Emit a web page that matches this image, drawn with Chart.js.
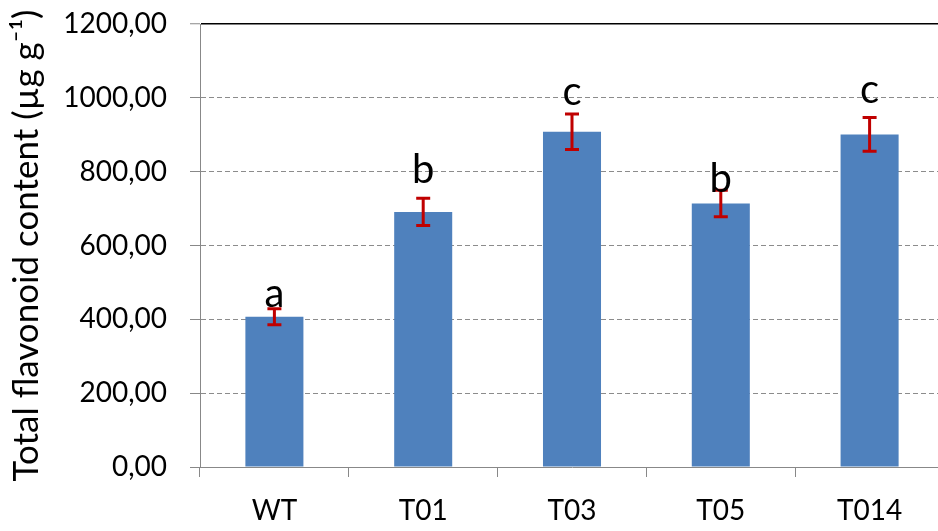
<!DOCTYPE html>
<html>
<head>
<meta charset="utf-8">
<script src="https://cdn.jsdelivr.net/npm/chart.js@4/dist/chart.umd.min.js"></script>
<style>
  html, body { margin: 0; padding: 0; background: #fff; overflow: hidden; }
  #wrap { width: 945px; height: 531px; }
</style>
</head>
<body>
<div id="wrap"><canvas id="myChart" width="945" height="531"></canvas></div>
<script>
// données
const categories = ["WT", "T01", "T03", "T05", "T014"];
const flavonoid = [407, 691, 908, 714, 901]; // moyenne (µg g-1)
const errors = [22, 37, 48, 36, 46]; // écart-type
const letters = ["a", "b", "c", "b", "c"]; // groupes statistiques
const letterPos = [433, 769, 980, 745, 986]; // hauteur de la lettre (valeur)
const yTicks = [0, 200, 400, 600, 800, 1000, 1200];

const fontName = "Lato, 'Open Sans', sans-serif";

// barres d'erreur + lettres
const errorBars = {
  id: "errorBars",
  afterDatasetsDraw(chart) {
    const ctx = chart.ctx;
    const y = chart.scales.y;
    const meta = chart.getDatasetMeta(0);
    ctx.save();
    meta.data.forEach(function (bar, i) {
      const x = bar.x;
      const top = y.getPixelForValue(flavonoid[i] + errors[i]);
      const bot = y.getPixelForValue(flavonoid[i] - errors[i]);
      ctx.strokeStyle = "#C00000";
      ctx.lineWidth = 3;
      ctx.beginPath();
      ctx.moveTo(x, top); ctx.lineTo(x, bot);
      ctx.moveTo(x - 7, top); ctx.lineTo(x + 7, top);
      ctx.moveTo(x - 7, bot); ctx.lineTo(x + 7, bot);
      ctx.stroke();
      // lettre
      ctx.fillStyle = "#000";
      ctx.font = "40px " + fontName;
      ctx.textAlign = "center";
      ctx.textBaseline = "alphabetic";
      ctx.fillText(letters[i], x, y.getPixelForValue(letterPos[i]));
    });
    ctx.restore();
  },
};

const config = {
  type: "bar",
  data: {
    labels: categories,
    datasets: [
      {
        data: flavonoid,
        backgroundColor: "#4F81BD",
        borderWidth: 0,
        categoryPercentage: 1,
        barPercentage: 0.39,
      },
    ],
  },
  options: {
    responsive: false,
    animation: false,
    layout: { autoPadding: false, padding: { top: 24, right: 1, left: 0, bottom: 0 } },
    plugins: { legend: { display: false }, tooltip: { enabled: false } },
    scales: {
      x: {
        border: { color: "#888", width: 1 },
        grid: {
          offset: true,
          drawOnChartArea: false,
          tickLength: 10,
          tickColor: "#888",
        },
        ticks: {
          color: "#000",
          font: { family: fontName, size: 28 },
          padding: 17,
        },
        afterFit: function (scale) {
          scale.height = 64;
          scale.paddingLeft = 0;
          scale.paddingRight = 0;
        },
      },
      y: {
        min: 0,
        max: 1200,
        afterBuildTicks: function (scale) {
          scale.ticks = yTicks.map(function (v) { return { value: v }; });
        },
        border: {
          color: "#888",
          width: 1,
          // v4 : pointillés de grille (ligne du haut pleine)
          dash: function (c) {
            return c.tick && c.tick.value === 1200 ? [] : [5, 3];
          },
        },
        grid: {
          color: function (c) {
            if (!c.tick) return "#8c8c8c";
            if (c.tick.value === 0) return "rgba(0,0,0,0)";
            if (c.tick.value === 1200) return "#000";
            return "#8c8c8c";
          },
          lineWidth: function (c) {
            return c.tick && c.tick.value === 1200 ? 1.5 : 1;
          },
          tickLength: 10,
          tickColor: "#888",
          tickWidth: 1,
          tickBorderDash: [],
        },
        ticks: {
          color: "#000",
          font: { family: fontName, size: 28 },
          padding: 23,
          callback: function (v) {
            return v.toFixed(2).replace(".", ",");
          },
        },
        title: {
          display: true,
          text: "Total flavonoid content (µg g⁻¹)",
          color: "#000",
          font: { family: fontName, size: 35 },
          padding: { top: 6, bottom: 0 },
        },
        afterFit: function (scale) {
          scale.width = 200;
          scale.paddingTop = 0; // sinon le padding des graduations décale le haut
          scale.paddingBottom = 0;
        },
      },
    },
  },
  plugins: [errorBars],
};

let context = document.getElementById("myChart").getContext("2d");
let chart = new Chart(context, config);
</script>
</body>
</html>
